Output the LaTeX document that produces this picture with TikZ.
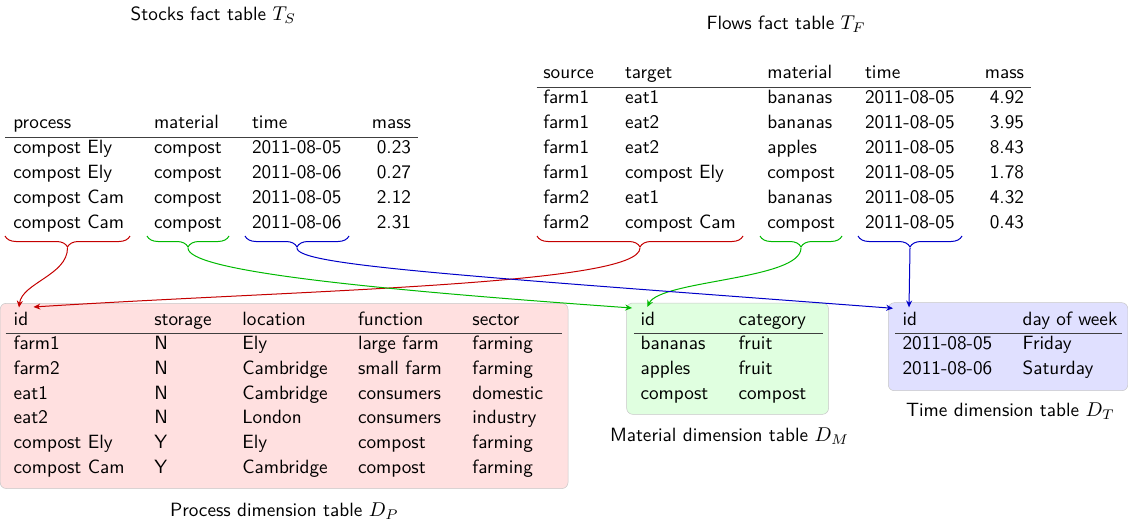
\documentclass[tikz,border=0pt]{standalone}
\usetikzlibrary{decorations.pathreplacing,arrows.meta}
\definecolor{cr}{RGB}{196,0,0}
\definecolor{cg}{RGB}{0,185,0}
\definecolor{cb}{RGB}{0,0,200}
\begin{document}
\begin{tikzpicture}[x=0.5pt,y=-0.5pt,
  every node/.style={inner sep=0pt,outer sep=0pt,font=\fontsize{9.6}{11.5}\selectfont\sffamily},
  cell/.style={anchor=base west},
  num/.style={anchor=base east},
  hrule/.style={line width=0.65pt,black!75},
  brc/.style={decorate,decoration={brace,mirror,amplitude=5.5pt},line width=0.5pt},
  link/.style={line width=0.5pt,-{Stealth[length=3.4pt,width=3pt]}},
  dimbox/.style={rounded corners=3pt,draw=black!22,line width=0.25pt}]
\useasboundingbox (0,0) rectangle (1128,524);

% dimension table backgrounds
\draw[dimbox,fill=red!12] (0.2,303.3) rectangle (568,488.5);
\draw[dimbox,fill=green!12] (626.7,303) rectangle (828.5,414.3);
\draw[dimbox,fill=blue!12] (888.3,302.7) rectangle (1127.8,390.7);

% ---------- Stocks fact table ----------
\node[cell] (tsT) at (130.7,20.5) {Stocks fact table $T_S$};
\node[cell] (ts-h-1) at (13.3,128.3) {process};
\node[cell] (ts-h-2) at (154,128.3) {material};
\node[cell] (ts-h-3) at (252,128.3) {time};
\node[num]  (ts-h-4) at (411,128.3) {mass};
\draw[hrule] (5,137.3) -- (418,137.3);
\foreach \p/\m/\d/\v [count=\i] in {compost Ely/compost/2011-08-05/0.23,
    compost Ely/compost/2011-08-06/0.27,
    compost Cam/compost/2011-08-05/2.12,
    compost Cam/compost/2011-08-06/2.31}{
  \node[cell] (ts-\i-1) at (13.3,{128.3+25*\i}) {\p};
  \node[cell] (ts-\i-2) at (154,{128.3+25*\i}) {\m};
  \node[cell] (ts-\i-3) at (252,{128.3+25*\i}) {\d};
  \node[num]  (ts-\i-4) at (411,{128.3+25*\i}) {\v};
}

% ---------- Flows fact table ----------
\node[cell] (tfT) at (706.7,29.5) {Flows fact table $T_F$};
\node[cell] (tf-h-1) at (543.3,78.3) {source};
\node[cell] (tf-h-2) at (625,78.3) {target};
\node[cell] (tf-h-3) at (767.3,78.3) {material};
\node[cell] (tf-h-4) at (865,78.3) {time};
\node[num]  (tf-h-5) at (1024,78.3) {mass};
\draw[hrule] (536.7,87.3) -- (1031,87.3);
\foreach \s/\t/\m/\d/\v [count=\i] in {farm1/eat1/bananas/2011-08-05/4.92,
    farm1/eat2/bananas/2011-08-05/3.95,
    farm1/eat2/apples/2011-08-05/8.43,
    farm1/compost Ely/compost/2011-08-05/1.78,
    farm2/eat1/bananas/2011-08-05/4.32,
    farm2/compost Cam/compost/2011-08-05/0.43}{
  \node[cell] (tf-\i-1) at (543.3,{78.3+25*\i}) {\s};
  \node[cell] (tf-\i-2) at (625,{78.3+25*\i}) {\t};
  \node[cell] (tf-\i-3) at (767.3,{78.3+25*\i}) {\m};
  \node[cell] (tf-\i-4) at (865,{78.3+25*\i}) {\d};
  \node[num]  (tf-\i-5) at (1024,{78.3+25*\i}) {\v};
}

% ---------- Process dimension table ----------
\node[cell] (dp-h-1) at (13.7,325) {id};
\node[cell] (dp-h-2) at (154.3,325) {storage};
\node[cell] (dp-h-3) at (242.3,325) {location};
\node[cell] (dp-h-4) at (358,325) {function};
\node[cell] (dp-h-5) at (472.4,325) {sector};
\draw[hrule] (5.5,333.3) -- (561.6,333.3);
\foreach \a/\b/\c/\d/\e [count=\i] in {farm1/N/Ely/large farm/farming,
    farm2/N/Cambridge/small farm/farming,
    eat1/N/Cambridge/consumers/domestic,
    eat2/N/London/consumers/industry,
    compost Ely/Y/Ely/compost/farming,
    compost Cam/Y/Cambridge/compost/farming}{
  \node[cell] (dp-\i-1) at (13.7,{324.6+24.8*\i}) {\a};
  \node[cell] (dp-\i-2) at (154.3,{324.6+24.8*\i}) {\b};
  \node[cell] (dp-\i-3) at (242.3,{324.6+24.8*\i}) {\c};
  \node[cell] (dp-\i-4) at (358,{324.6+24.8*\i}) {\d};
  \node[cell] (dp-\i-5) at (472.4,{324.6+24.8*\i}) {\e};
}
\node[cell] (dpT) at (170,516) {Process dimension table $D_P$};

% ---------- Material dimension table ----------
\node[cell] (dm-h-1) at (640.6,325) {id};
\node[cell] (dm-h-2) at (738.6,325) {category};
\draw[hrule] (633.8,333.3) -- (823,333.3);
\foreach \a/\b [count=\i] in {bananas/fruit, apples/fruit, compost/compost}{
  \node[cell] (dm-\i-1) at (640.6,{324.6+24.8*\i}) {\a};
  \node[cell] (dm-\i-2) at (738.6,{324.6+24.8*\i}) {\b};
}
\node[cell] (dmT) at (610,441.5) {Material dimension table $D_M$};

% ---------- Time dimension table ----------
\node[cell] (dt-h-1) at (902.6,325) {id};
\node[cell] (dt-h-2) at (1022.6,325) {day of week};
\draw[hrule] (895,333.3) -- (1121.5,333.3);
\foreach \a/\b [count=\i] in {2011-08-05/Friday, 2011-08-06/Saturday}{
  \node[cell] (dt-\i-1) at (902.6,{324.6+24.8*\i}) {\a};
  \node[cell] (dt-\i-2) at (1022.6,{324.6+24.8*\i}) {\b};
}
\node[cell] (dtT) at (906,416.5) {Time dimension table $D_T$};

% ---------- braces ----------
\draw[brc,cr] (5,236) -- (130,236);
\draw[brc,cg] (147,236) -- (229,236);
\draw[brc,cb] (245,236) -- (349,236);
\draw[brc,cr] (537,236) -- (743,236);
\draw[brc,cg] (760,236) -- (842,236);
\draw[brc,cb] (858,236) -- (962,236);

\coordinate (sP) at (67.5,248);
\coordinate (sM) at (188,248);
\coordinate (sT) at (297,248);
\coordinate (fP) at (640,248);
\coordinate (fM) at (801,248);
\coordinate (fT) at (910,248);

\coordinate (pA) at (19,307.5);
\coordinate (pB) at (33.5,307);
\coordinate (mA) at (632,308);
\coordinate (mB) at (647.3,307);
\coordinate (tA) at (893,308.3);
\coordinate (tB) at (909,307.3);

% ---------- links ----------
\draw[link,cr] (sP) .. controls (67.5,275) and (22,283) .. (pA);
\draw[link,cr] (fP) .. controls (640,285) and (300,290) .. (pB);
\draw[link,cg] (sM) .. controls (188,270) and (350,288) .. (mA);
\draw[link,cg] (fM) .. controls (801,280) and (660,280) .. (mB);
\draw[link,cb] (sT) .. controls (297,265) and (450,275) .. (tA);
\draw[link,cb] (fT) -- (tB);
\end{tikzpicture}
\end{document}
